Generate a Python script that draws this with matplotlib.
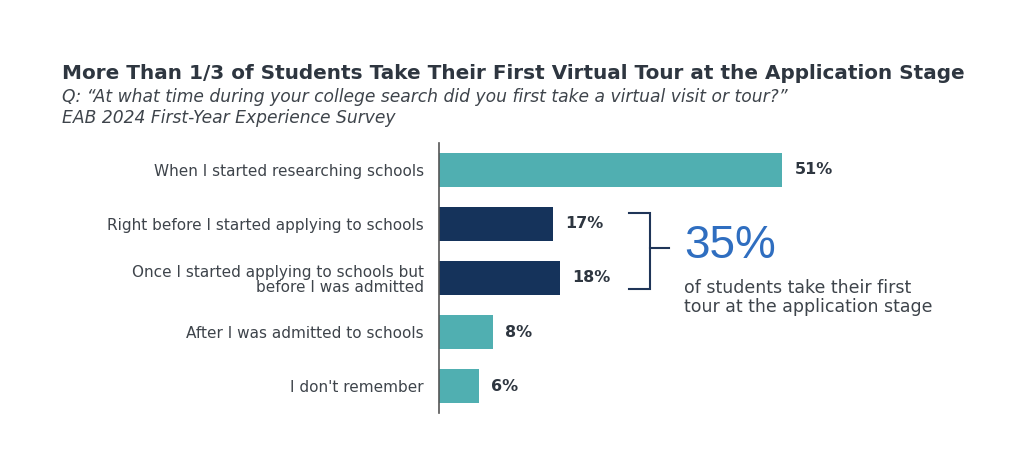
import matplotlib
matplotlib.use("Agg")
import matplotlib.pyplot as plt

categories = [
    "When I started researching schools",
    "Right before I started applying to schools",
    "Once I started applying to schools but\nbefore I was admitted",
    "After I was admitted to schools",
    "I don't remember",
]
values = [51, 17, 18, 8, 6]
highlight = [False, True, True, False, False]
value_labels = ["51%", "17%", "18%", "8%", "6%"]

title = "More Than 1/3 of Students Take Their First Virtual Tour at the Application Stage"
subtitle1 = "Q: \u201cAt what time during your college search did you first take a virtual visit or tour?\u201d"
subtitle2 = "EAB 2024 First-Year Experience Survey"
callout_big = "35%"
callout_text = "of students take their first\ntour at the application stage"

TEAL = "#50AFB1"
NAVY = "#15335B"
DARK = "#2E3640"
GRAY = "#3E444B"
BLUE = "#2F6EC0"

W, H = 1024, 465
fig = plt.figure(figsize=(W / 100, H / 100), dpi=100)
fig.patch.set_facecolor("white")

ax_left, ax_top, ax_bottom = 439, 143, 413
xmax = 80
px_per = 6.73
ax_w = xmax * px_per
ax = fig.add_axes([ax_left / W, 1 - ax_bottom / H, ax_w / W, (ax_bottom - ax_top) / H])

ypos = list(range(len(values)))
colors = [NAVY if h else TEAL for h in highlight]
ax.barh(ypos, values, height=0.64, color=colors, zorder=2)
ax.set_ylim(len(values) - 0.5, -0.5)
ax.set_xlim(0, xmax)

for s in ["top", "right", "bottom"]:
    ax.spines[s].set_visible(False)
ax.spines["left"].set_color("#555555")
ax.spines["left"].set_linewidth(1.2)
ax.set_xticks([])
ax.set_yticks(ypos)
ax.set_yticklabels(categories, fontsize=11, color=GRAY, family="DejaVu Sans", linespacing=1.0)
ax.tick_params(axis="y", length=0, pad=11)

for y, v, lab in zip(ypos, values, value_labels):
    ax.text(v + 1.8, y, lab, va="center", ha="left", fontsize=11.5,
            fontweight="bold", color=DARK)

# bracket
bx0, bx1, bx2 = 28.2, 31.3, 34.2
yt, yb, ym = 0.8, 2.2, 1.45
ax.plot([bx0, bx1, bx1, bx0], [yt, yt, yb, yb], color="#1F3558", lw=1.5,
        solid_joinstyle="miter", clip_on=False)
ax.plot([bx1, bx2], [ym, ym], color="#1F3558", lw=1.5, clip_on=False)

ax.text(36.4, 1.41, callout_big, ha="left", va="center", fontsize=33,
        color=BLUE, family="Liberation Sans")
ax.text(36.4, 2.36, callout_text, ha="left", va="center", fontsize=12.5,
        color=GRAY, linespacing=1.1)

fig.text(62 / W, 1 - 73.5 / H, title, ha="left", va="center", fontsize=14.4,
         fontweight="bold", color=DARK)
fig.text(62 / W, 1 - 97 / H, subtitle1, ha="left", va="center", fontsize=12.3,
         style="italic", color=GRAY)
fig.text(62 / W, 1 - 118 / H, subtitle2, ha="left", va="center", fontsize=12.3,
         style="italic", color=GRAY)

fig.savefig("out.png", dpi=100, facecolor="white")
